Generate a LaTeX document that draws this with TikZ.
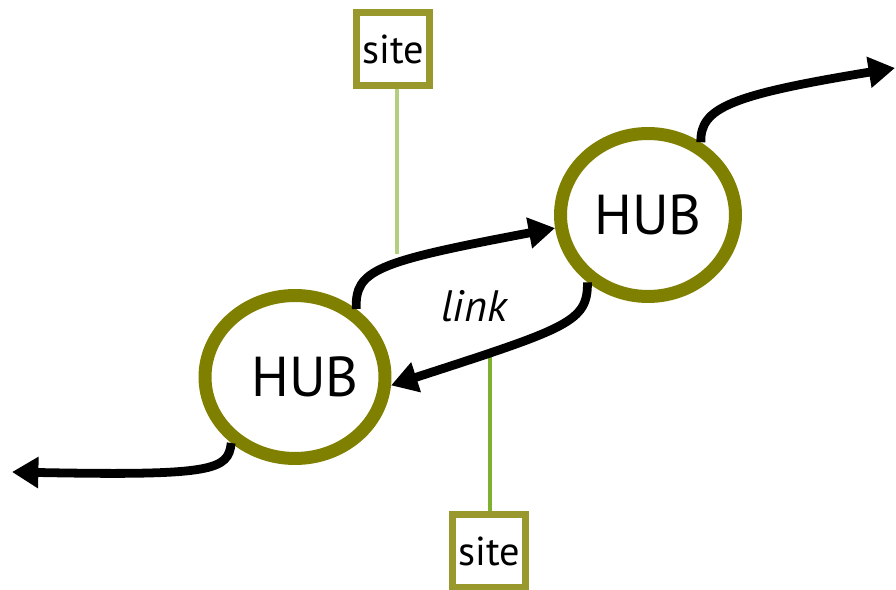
\documentclass[tikz,border=0pt]{standalone}
\usepackage{fontspec}
\setmainfont{PT Sans}
\usetikzlibrary{shapes.geometric,arrows.meta}

\definecolor{hubring}{RGB}{128,128,0}
\definecolor{siteframe}{RGB}{152,152,44}
\definecolor{sitewireup}{RGB}{176,208,128}
\definecolor{sitewiredown}{RGB}{128,176,48}

\begin{document}
\begin{tikzpicture}[x=0.02cm,y=-0.02cm,
	hub/.style={ellipse, draw=hubring, line width=7.4pt, fill=white, minimum width=3.5cm, minimum height=3.26cm, inner sep=0mm, font=\fontsize{32}{36}\selectfont},
	sitebox/.style={rectangle, draw=siteframe, line width=4pt, fill=white, minimum width=1.46cm, minimum height=1.46cm, inner sep=0mm, font=\fontsize{23}{26}\selectfont},
	linkarrow/.style={line width=5pt, -{Triangle[length=15pt,width=17pt]}},
	siteline/.style={line width=2.2pt}]

	\useasboundingbox (0,0) rectangle (896,590);

	% the two hubs
	\node[hub] at (295,377) (hubA) {\hspace*{0.4cm}HUB};
	\node[hub] at (648,215) (hubB) {HUB};

	% sites hanging off the link
	\node[sitebox] at (393,49) (siteUp) {site};
	\node[sitebox] at (489,551) (siteDown) {site};

	\coordinate (wireUp) at (397,254);
	\coordinate (wireDown) at (490,350);
	\coordinate (outB) at (895,68);
	\coordinate (outA) at (12,472);

	\draw[siteline, sitewireup] (siteUp.south -| wireUp) -- (wireUp);
	\draw[siteline, sitewiredown] (siteDown.north -| wireDown) -- (wireDown);

	% link in both directions
	\draw[linkarrow] (hubA.48) .. controls (355,270) and (375,262) .. (hubB.188);
	\draw[linkarrow] (hubB.228) .. controls (588,322) and (568,328) .. (hubA.-5);

	\node at (474,306) (link) {\fontsize{25}{28}\selectfont\itshape link};

	% traffic leaving the hubs
	\draw[linkarrow] (hubB.54) .. controls (700,108) and (730,95) .. (outB);
	\draw[linkarrow] (hubA.226) .. controls (228,470) and (215,476) .. (outA);

\end{tikzpicture}
\end{document}
